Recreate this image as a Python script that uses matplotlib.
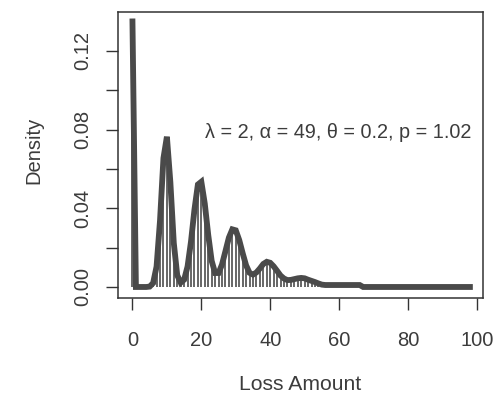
import matplotlib
matplotlib.use("Agg")
import matplotlib.pyplot as plt

# loss amount grid (integer steps) and density
loss = list(range(0, 99))
density = [
    0.135, 0.0, 0.0, 0.0, 0.0, 0.0002, 0.002, 0.0104, 0.0337, 0.0655,   # 0-9
    0.0764, 0.0534, 0.0224, 0.0060, 0.0022, 0.0037, 0.0104, 0.0231, 0.0393, 0.0521,  # 10-19
    0.0535, 0.0424, 0.0265, 0.0133, 0.0071, 0.0071, 0.0114, 0.0182, 0.0251, 0.0293,  # 20-29
    0.0288, 0.0239, 0.0172, 0.0110, 0.0072, 0.0063, 0.0074, 0.0094, 0.0117, 0.0128,  # 30-39
    0.0123, 0.0105, 0.0082, 0.0058, 0.0043, 0.0035, 0.0036, 0.0040, 0.0044, 0.0046,  # 40-49
    0.0044, 0.0037, 0.0031, 0.0025, 0.0018, 0.0012, 0.0010, 0.0010, 0.0010, 0.0010,  # 50-59
    0.0010, 0.0010, 0.0010, 0.0010, 0.0010, 0.0010, 0.0010, 0.0, 0.0, 0.0,           # 60-69
] + [0.0] * 29

x_ticks = [0, 20, 40, 60, 80, 100]
y_ticks = [0.00, 0.02, 0.04, 0.06, 0.08, 0.10, 0.12]
y_labels = ["0.00", "", "0.04", "", "0.08", "", "0.12"]
note = "\u03bb = 2, \u03b1 = 49, \u03b8 = 0.2, p = 1.02"

plt.rcParams['font.family'] = ['Liberation Sans', 'DejaVu Sans']
txt = '#3c3c3c'

fig = plt.figure(figsize=(4.97, 4.01), dpi=100)
ax = fig.add_axes([118/497, 1 - 298/401, (483 - 118)/497, (298 - 12)/401])

ax.vlines(loss, 0, density, color='#4d4d4d', lw=1.2)
ax.plot(loss, density, color='#4a4a4a', lw=4.2, solid_joinstyle='miter')

ax.set_xlim(-4.2, 101.8)
ax.set_ylim(-0.0056, 0.1398)

ax.set_xticks(x_ticks)
ax.set_xticklabels([str(v) for v in x_ticks])
ax.set_yticks(y_ticks)
ax.set_yticklabels(y_labels, rotation=90, va='center')

ax.tick_params(axis='both', direction='out', length=8.5, width=1.0,
               colors='#333333', labelcolor=txt, labelsize=14.5)
ax.tick_params(axis='x', pad=15)
ax.tick_params(axis='y', pad=10)
for s in ax.spines.values():
    s.set_linewidth(1.1)
    s.set_color('#333333')

fig.text(471/497, 1 - 133/401, note, ha='right', va='center', fontsize=14.3, color=txt)

fig.text(34/497, 1 - 150/401, "Density", rotation=90, ha='center', va='center',
         fontsize=14.5, color=txt)
fig.text(300/497, 1 - 385/401, "Loss Amount", ha='center', va='center',
         fontsize=15.2, color=txt)

fig.savefig("out.png", dpi=100)
